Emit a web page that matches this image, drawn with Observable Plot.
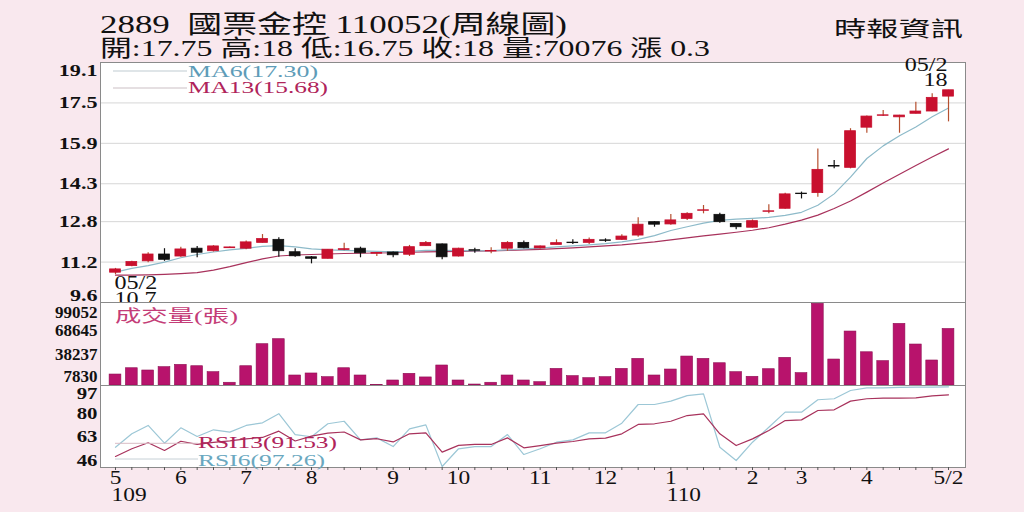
<!DOCTYPE html>
<html><head><meta charset="utf-8">
<script src="https://cdn.jsdelivr.net/npm/d3@7"></script>
<script src="https://cdn.jsdelivr.net/npm/@observablehq/plot@0.6"></script>
<style>
body{margin:0;background:#f9e8ee;}
#c{position:relative;width:1024px;height:512px;overflow:hidden;background:#f9e8ee;}
#c > svg{position:absolute;left:0;}
</style></head><body><div id="c"></div>
<script>
// ---- data (weekly candles, 109/05 wk2 .. 110/05 wk2) ----
const open  = [10.78,11.04,11.23,11.50,11.42,11.73,11.63,11.75,11.73,11.96,12.08,11.59,11.39,11.33,11.68,11.73,11.53,11.58,11.49,11.83,11.90,11.42,11.67,11.62,11.73,11.96,11.74,11.88,11.97,11.96,12.06,12.08,12.25,12.78,12.69,12.91,13.23,13.07,12.71,12.56,13.19,13.31,13.91,13.93,15.00,14.93,16.52,16.99,16.93,17.07,17.16,17.75];
const high  = [10.95,11.23,11.57,11.73,11.79,11.82,11.85,11.80,12.03,12.29,12.16,11.73,11.42,11.70,11.95,11.79,11.58,11.60,11.86,12.01,11.92,11.75,11.75,11.77,12.01,12.03,11.84,12.08,12.08,12.15,12.12,12.28,12.95,12.80,13.08,13.15,13.44,13.13,12.72,12.87,13.47,13.92,13.97,15.68,15.22,16.48,16.98,17.20,17.01,17.53,17.86,18.00];
const low   = [10.70,11.02,11.17,11.23,11.39,11.37,11.60,11.74,11.69,11.95,11.39,11.39,11.13,11.32,11.65,11.37,11.42,11.37,11.42,11.82,11.29,11.40,11.55,11.53,11.62,11.73,11.72,11.87,11.90,11.90,11.98,12.05,12.18,12.58,12.66,12.85,13.11,12.74,12.48,12.55,13.11,13.29,13.70,13.77,14.89,14.89,16.30,16.96,16.30,17.06,17.15,16.75];
const close = [10.91,11.20,11.50,11.29,11.70,11.57,11.82,11.78,11.98,12.11,11.63,11.43,11.33,11.69,11.71,11.55,11.56,11.47,11.79,11.96,11.39,11.73,11.65,11.64,11.96,11.75,11.82,11.95,11.95,12.08,12.04,12.21,12.68,12.68,12.85,13.11,13.25,12.78,12.58,12.82,13.21,13.88,13.89,14.85,14.98,16.38,16.96,17.01,17.00,17.16,17.70,18.00];
const volume = [13600,21400,18600,22700,25600,23900,16500,3400,23900,51200,57400,12400,14900,10300,21400,12400,600,6200,14500,10000,24800,6200,1200,3400,12400,6200,4100,20600,11600,9100,10300,20600,33000,12400,19800,35900,33000,27600,16500,10800,20200,34300,15300,101300,32200,66900,41200,30200,76400,50800,31000,70076];
const ma6  = [10.80,10.95,11.06,11.20,11.37,11.50,11.60,11.68,11.74,11.82,11.85,11.80,11.72,11.68,11.66,11.64,11.62,11.60,11.62,11.66,11.66,11.65,11.64,11.65,11.68,11.72,11.75,11.80,11.84,11.88,11.93,12.00,12.10,12.25,12.45,12.60,12.74,12.85,12.90,12.93,12.97,13.05,13.17,13.45,13.90,14.56,15.30,15.80,16.20,16.55,16.95,17.30];
const ma13 = [10.68,10.68,10.69,10.71,10.74,10.78,10.88,11.02,11.18,11.33,11.44,11.48,11.50,11.52,11.54,11.55,11.56,11.57,11.59,11.60,11.61,11.62,11.63,11.64,11.66,11.68,11.70,11.73,11.76,11.80,11.84,11.88,11.94,12.00,12.08,12.16,12.24,12.31,12.38,12.46,12.56,12.70,12.86,13.06,13.32,13.62,13.97,14.33,14.68,15.02,15.36,15.68];
const rsi6  = [54.0,63.6,69.6,56.9,67.9,61.7,66.5,64.8,69.6,71.5,78.0,63.0,61.5,70.8,72.6,59.3,60.7,54.5,67.2,70.0,40.2,52.9,54.5,54.5,63.1,48.8,52.9,57.6,59.3,64.3,64.3,71.2,84.6,84.6,87.0,91.0,92.2,54.0,44.5,57.6,68.3,79.1,79.1,88.0,88.7,94.6,96.5,96.5,96.9,97.0,97.1,97.26];
const rsi13 = [47.4,52.9,57.2,51.7,58.3,56.0,57.5,58.5,60.0,61.0,65.5,58.5,62.0,64.1,64.9,59.3,60.1,57.8,63.6,64.3,50.5,55.3,56.0,56.0,60.7,53.6,55.2,56.9,58.1,60.0,60.5,63.6,70.3,70.8,72.6,76.7,77.9,63.6,55.2,60.0,66.0,73.1,73.6,80.3,80.8,87.0,88.7,89.1,89.1,89.4,90.8,91.53];

const priceTicks = [19.1,17.5,15.9,14.3,12.8,11.2,9.6];
const priceGrid  = [17.5,15.9,14.3,12.8,11.2];
const volTicks   = [99052,68645,38237,7830];
const rsiTicks   = [97,80,63,46];
const monthIdx    = [0,4,8,12,17,21,26,30,34,39,42,46,51];
const monthLabels = ["5","6","7","8","9","10","11","12","1","2","3","4","5/2"];
const yearIdx     = [0,34];
const yearLabels  = ["109","110"];
const lowMark  = {i:0,  date:"05/2", value:10.7};
const highMark = {i:51, date:"05/2", value:18};
const titleText = "2889  國票金控 110052(周線圖)";
const quoteText = "開:17.75 高:18 低:16.75 收:18 量:70076 漲 0.3";
const sourceText = "時報資訊";
const maLegend  = ["MA6(17.30)","MA13(15.68)"];
const rsiLegend = ["RSI13(91.53)","RSI6(97.26)"];
const volLabel  = "成交量(張)";

// ---- build ----
const candles = open.map((o,i)=>({i, open:o, high:high[i], low:low[i], close:close[i],
  vol:volume[i], ma6:ma6[i], ma13:ma13[i], rsi6:rsi6[i], rsi13:rsi13[i]}));
const months = monthIdx.map((i,k)=>({i, label:monthLabels[k]}));
const years  = yearIdx.map((i,k)=>({i, label:yearLabels[k]}));

const RED="#c8102e", BLACK="#111", WICKRED="#b5502f";
const body = d => d.close >= d.open ? RED : BLACK;
const wick = d => d.close >= d.open ? WICKRED : BLACK;
const SERIF = "'Liberation Serif','Noto Sans CJK TC',serif";
const common = {
  width:1024, marginLeft:100, marginRight:59,
  x:{domain:[-0.918,52.04], axis:null},
  style:{background:"transparent", fontFamily:SERIF, overflow:"visible", color:"#111"}
};
function yLabels(ticks, dom, name, size, topDy, midDy, botDy){
  const span = dom[1]-dom[0];
  const top = ticks.filter(t => t >= dom[1]-span*0.04);
  const bot = ticks.filter(t => t <= dom[0]+span*0.08);
  const mid = ticks.filter(t => !top.includes(t) && !bot.includes(t));
  const o = {y:d=>d, text:d=>String(d), frameAnchor:"left", dx:-3, textAnchor:"end", lineAnchor:"middle",
             fontSize:size, fontWeight:"bold", fill:"#111", ariaLabel:name};
  return [Plot.text(top,{...o, dy:topDy}), Plot.text(mid,{...o, dy:midDy}), Plot.text(bot,{...o, dy:botDy})];
}
function label(s, x, y, size, fill, len, txt){
  s.append("text").attr("x",x).attr("y",y).attr("font-size",size).attr("font-family",SERIF)
    .attr("fill",fill).attr("text-anchor","start").style("white-space","pre")
    .attr("textLength",len).attr("lengthAdjust","spacingAndGlyphs").text(txt);
}

const c = document.getElementById("c");

// header
const head = d3.create("svg").attr("width",1024).attr("height",62).style("top","0px");
label(head, 100, 33, 25, "#111", 467, titleText);
label(head, 100, 55.5, 22.5, "#111", 610, quoteText);
label(head, 834, 35.5, 21, "#111", 129, sourceText);
c.appendChild(head.node());

// price panel
const pDom=[9.6,19.1];
const price = Plot.plot({...common, height:270, marginTop:22, marginBottom:8,
  y:{domain:pDom, axis:null},
  marks:[
    Plot.frame({fill:"white", stroke:"none"}),
    Plot.ruleY(priceGrid,{stroke:"#d6d6d6"}),
    Plot.line(candles,{x:"i", y:"ma13", stroke:"#a8325c", strokeWidth:1.2}),
    Plot.line(candles,{x:"i", y:"ma6", stroke:"#8dbac9", strokeWidth:1.2}),
    Plot.ruleX(candles,{x:"i", y1:"low", y2:"high", stroke:wick, strokeWidth:1.2}),
    Plot.rect(candles,{x1:d=>d.i-0.33, x2:d=>d.i+0.33, y1:"open", y2:"close", fill:body, stroke:body, strokeWidth:0.8}),
    Plot.frame({stroke:"#8a8a8a"}),
    ...yLabels(priceTicks,pDom,"ytick-price",17,8,0,-7),
    Plot.text([lowMark],{x:"i", y:"value", text:"date", dy:8.5, dx:-1, textAnchor:"start", lineAnchor:"middle", fontSize:18.5, fill:"#111"}),
    Plot.text([lowMark],{x:"i", y:"value", text:d=>String(d.value), dy:24, dx:-1, textAnchor:"start", lineAnchor:"middle", fontSize:18.5, fill:"#111"}),
    Plot.text([highMark],{x:"i", y:"value", text:"date", dy:-25.5, dx:-1, textAnchor:"end", lineAnchor:"middle", fontSize:18.5, fill:"#111"}),
    Plot.text([highMark],{x:"i", y:"value", text:d=>String(d.value), dy:-10, dx:-1, textAnchor:"end", lineAnchor:"middle", fontSize:18.5, fill:"#111"})
  ]});
price.style.top="40px";
c.appendChild(price);
{
  const s = d3.select(price);
  s.append("line").attr("x1",113).attr("x2",187).attr("y1",31).attr("y2",31).attr("stroke","#bfcbd1");
  s.append("line").attr("x1",113).attr("x2",187).attr("y1",48).attr("y2",48).attr("stroke","#cbbfc4");
  label(s, 188, 37.3, 17.5, "#5e9cb8", 130, maLegend[0]);
  label(s, 188, 53.3, 17.5, "#b0245a", 140, maLegend[1]);
}

// volume panel
const vDom=[0,102900];
const vol = Plot.plot({...common, height:100, marginTop:10, marginBottom:7,
  y:{domain:vDom, axis:null},
  marks:[
    Plot.frame({fill:"white", stroke:"none"}),
    Plot.rect(candles,{x1:d=>d.i-0.36, x2:d=>d.i+0.36, y1:()=>0, y2:"vol", fill:"#b8136c", stroke:"#8e0e52", strokeWidth:0.6}),
    Plot.frame({stroke:"#8a8a8a"}),
    ...yLabels(volTicks,vDom,"ytick-vol",17,7,0,-2.5)
  ]});
vol.style.top="292px";
c.appendChild(vol);
label(d3.select(vol), 115, 30, 17, "#c43d78", 123, volLabel);

// RSI panel
const rDom=[39.5,98.2];
const rsi = Plot.plot({...common, height:132, marginTop:5, marginBottom:45,
  y:{domain:rDom, axis:null},
  marks:[
    Plot.frame({fill:"white", stroke:"none"}),
    Plot.line(candles,{x:"i", y:"rsi6", stroke:"#9cc7d6", strokeWidth:1.2}),
    Plot.line(candles,{x:"i", y:"rsi13", stroke:"#a8325c", strokeWidth:1.2}),
    Plot.frame({stroke:"#8a8a8a"}),
    Plot.axisX(candles.map(d=>d.i),{tickSize:3, tickFormat:()=>"", label:null, stroke:"#555"}),
    Plot.text(months,{x:"i", text:"label", frameAnchor:"bottom", lineAnchor:"middle", dy:11, fontSize:18, fill:"#111"}),
    Plot.text(years,{x:"i", text:"label", frameAnchor:"bottom", lineAnchor:"middle", dy:27.5, dx:-4, textAnchor:"start", fontSize:18, fill:"#111"}),
    ...yLabels(rsiTicks,rDom,"ytick-rsi",16,7,2.5,0)
  ]});
rsi.style.top="380px";
c.appendChild(rsi);
{
  const s = d3.select(rsi);
  s.append("line").attr("x1",115).attr("x2",198).attr("y1",63.3).attr("y2",63.3).attr("stroke","#d9bcc5");
  s.append("line").attr("x1",115).attr("x2",198).attr("y1",79).attr("y2",79).attr("stroke","#c6d0d6");
  label(s, 198, 68.3, 17.5, "#b0245a", 139, rsiLegend[0]);
  label(s, 198, 86, 17.5, "#6aa8c0", 127, rsiLegend[1]);
}

// horizontal stretch of Plot texts to match the wide reference lettering
function fit(nodes, f){
  nodes.forEach(t => { if (t.hasAttribute("textLength")) return; const w = t.getComputedTextLength(); if (!w) return;
    t.setAttribute("textLength", f(w).toFixed(1)); t.setAttribute("lengthAdjust","spacingAndGlyphs"); });
}
fit(price.querySelectorAll('g[aria-label="ytick-price"] text'), w=>w*1.2);
fit(vol.querySelectorAll('g[aria-label="ytick-vol"] text'), w=>Math.min(w,35));
fit(rsi.querySelectorAll('g[aria-label="ytick-rsi"] text'), w=>w*0.9);
[price, rsi].forEach(svg => fit(svg.querySelectorAll('g[aria-label="text"] text'), w=>w*1.3));
</script></body></html>
